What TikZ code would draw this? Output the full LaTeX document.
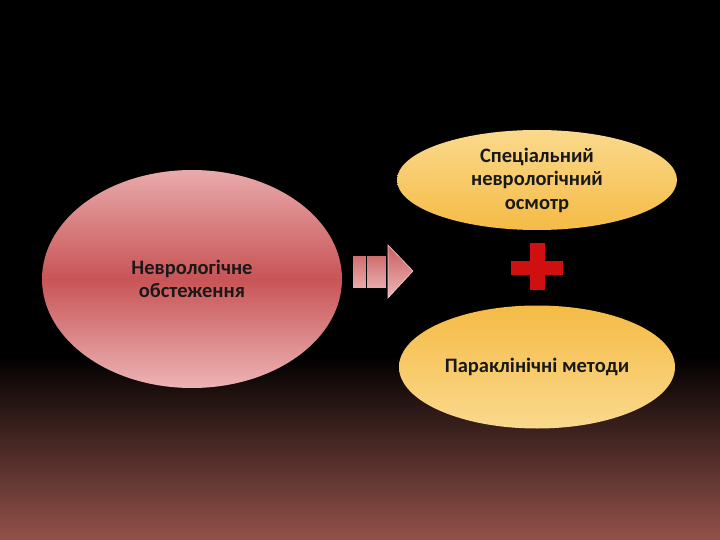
\documentclass[tikz,border=0pt]{standalone}
\usepackage{fontspec}
\setmainfont{Carlito}
\usetikzlibrary{shapes.geometric}
\definecolor{bgbot}{HTML}{93524A}
\definecolor{redtop}{HTML}{E9AAAB}
\definecolor{redmid}{HTML}{C85456}
\definecolor{redbot}{HTML}{EDB4B5}
\definecolor{orlight}{HTML}{FAD98D}
\definecolor{ordark}{HTML}{F5BB45}
\definecolor{crossred}{HTML}{D01010}
\tikzset{
  oval/.style={ellipse, inner sep=0pt, align=center, font=\fontsize{20.5}{23.5}\selectfont\bfseries, text=black!90},
}
\begin{document}
\begin{tikzpicture}[x=1pt,y=-1pt]
\useasboundingbox (0,0) rectangle (720,540);
\fill[black] (0,0) rectangle (720,540);
\shade[top color=black, bottom color=bgbot] (0,355) rectangle (720,540);
% left ellipse
\node[oval, minimum width=300pt, minimum height=218pt, top color=redtop, bottom color=redbot, middle color=redmid] (neuro) at (192,279) {Неврологічне\\обстеження};
% top right
\node[oval, minimum width=280pt, minimum height=100pt, top color=orlight, bottom color=ordark] (spec) at (537,180) {Спеціальний\\неврологічний\\осмотр};
% bottom right
\node[oval, minimum width=276pt, minimum height=123pt, top color=ordark, bottom color=orlight] (para) at (537,367) {Параклінічні методи};
% arrow
\shade[top color=redmid!85!white, bottom color=redtop] (353,256) rectangle (366,287);
\shade[top color=redmid!85!white, bottom color=redtop] (367,256) rectangle (386,287);
\draw[black, line width=1pt] (366.5,256) -- (366.5,287);
\draw[black, line width=1pt] (386.5,256) -- (386.5,287);
\shade[top color=redmid!95!white, bottom color=redtop!85!white, draw=redtop!60!white, line width=0.6pt] (388,245) -- (413,271) -- (388,298) -- cycle;
% plus
\fill[crossred] (511,261) rectangle (563,275);
\fill[crossred] (530,243) rectangle (545,290);
\end{tikzpicture}
\end{document}
